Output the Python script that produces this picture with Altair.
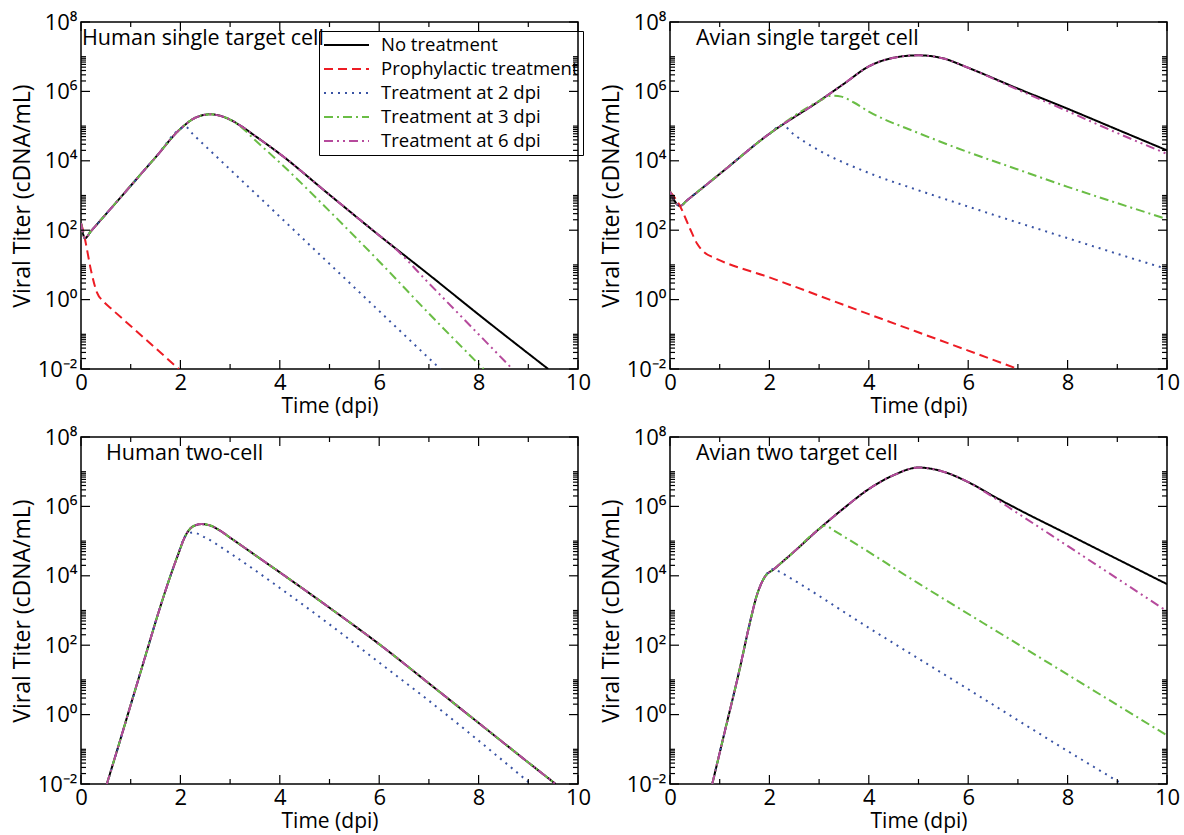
import altair as alt
import pandas as pd

FONT = "Open Sans"
W, H = 497, 347

SERIES = ["No treatment", "Prophylactic treatment", "Treatment at 2 dpi",
          "Treatment at 3 dpi", "Treatment at 6 dpi"]
COLORS = ["#000000", "#ed1c24", "#3953a4", "#6abd45", "#b64a9c"]
DASHES = [[1, 0], [9, 5], [2, 5], [9, 4, 2, 4], [9, 4, 2, 4, 2, 4]]

# Each curve: time (dpi) and log10 of the viral titer (cDNA/mL)

# Human single target cell
hs_none_t = [0, 0.08, 0.2, 0.5, 1.0, 1.5, 2.0, 2.3, 2.6, 2.9, 3.2, 3.5, 4.0, 5.0, 6.0, 7.0, 8.0, 9.4]
hs_none_v = [2.2, 1.77, 1.97, 2.46, 3.28, 4.1, 4.92, 5.24, 5.34, 5.25, 5.02, 4.72, 4.2, 3.02, 1.85, 0.72, -0.43, -2.0]
hs_pro_t = [0, 0.05, 0.1, 0.2, 0.32, 0.45, 0.6, 1.0, 1.5, 1.97]
hs_pro_v = [2.2, 1.95, 1.6, 0.85, 0.21, -0.05, -0.25, -0.76, -1.4, -2.0]
hs_d2_t = [0, 0.08, 0.2, 0.5, 1.0, 1.5, 2.0, 2.1, 2.25, 3.0, 4.0, 5.0, 6.0, 7.0, 7.23]
hs_d2_v = [2.2, 1.77, 1.97, 2.46, 3.28, 4.1, 4.92, 4.98, 4.77, 3.75, 2.39, 1.03, -0.33, -1.69, -2.0]
hs_d3_t = [0, 0.08, 0.2, 0.5, 1.0, 1.5, 2.0, 2.3, 2.6, 2.9, 3.2, 3.5, 4.0, 5.0, 6.0, 7.0, 8.1]
hs_d3_v = [2.2, 1.77, 1.97, 2.46, 3.28, 4.1, 4.92, 5.24, 5.34, 5.25, 5.0, 4.6, 3.95, 2.55, 1.1, -0.4, -2.0]
hs_d6_t = [0, 0.08, 0.2, 0.5, 1.0, 1.5, 2.0, 2.3, 2.6, 2.9, 3.2, 3.5, 4.0, 5.0, 6.0, 6.3, 7.0, 8.0, 8.68]
hs_d6_v = [2.2, 1.77, 1.97, 2.46, 3.28, 4.1, 4.92, 5.24, 5.34, 5.25, 5.02, 4.72, 4.2, 3.02, 1.85, 1.5, 0.47, -1.0, -2.0]

# Avian single target cell
as_none_t = [0, 0.2, 0.35, 1.0, 2.0, 3.0, 3.5, 4.0, 4.5, 5.0, 5.5, 6.0, 7.0, 8.0, 9.0, 10.0]
as_none_v = [3.11, 2.7, 2.87, 3.62, 4.78, 5.72, 6.22, 6.72, 6.97, 7.04, 6.95, 6.68, 6.08, 5.5, 4.9, 4.3]
as_pro_t = [0, 0.2, 0.4, 0.55, 0.7, 0.9, 2.0, 4.0, 6.0, 7.0]
as_pro_v = [3.11, 2.7, 2.05, 1.6, 1.35, 1.2, 0.64, -0.42, -1.47, -2.0]
as_d2_t = [0, 0.2, 0.35, 1.0, 2.0, 2.25, 2.5, 3.0, 4.0, 5.0, 6.0, 7.0, 8.0, 9.0, 10.0]
as_d2_v = [3.11, 2.7, 2.87, 3.62, 4.78, 5.03, 4.75, 4.3, 3.65, 3.15, 2.68, 2.22, 1.77, 1.32, 0.88]
as_d3_t = [0, 0.2, 0.35, 1.0, 2.0, 3.0, 3.25, 3.45, 3.7, 4.0, 5.0, 6.0, 7.0, 8.0, 9.0, 10.0]
as_d3_v = [3.11, 2.7, 2.87, 3.62, 4.78, 5.72, 5.88, 5.85, 5.68, 5.42, 4.8, 4.25, 3.75, 3.25, 2.78, 2.32]
as_d6_t = [0, 0.2, 0.35, 1.0, 2.0, 3.0, 3.5, 4.0, 4.5, 5.0, 5.5, 6.0, 7.0, 8.0, 9.0, 10.0]
as_d6_v = [3.11, 2.7, 2.87, 3.62, 4.78, 5.72, 6.22, 6.72, 6.97, 7.04, 6.95, 6.68, 6.05, 5.43, 4.8, 4.2]

# Human two-cell
ht_none_t = [0.52, 0.8, 1.0, 1.3, 1.55, 1.8, 1.95, 2.1, 2.25, 2.42, 2.6, 2.8, 3.0, 3.5, 4.0, 5.0, 6.0, 7.0, 8.0, 9.0, 9.55]
ht_none_v = [-2.0, -0.68, 0.28, 1.71, 2.9, 4.0, 4.6, 5.15, 5.42, 5.49, 5.45, 5.3, 5.1, 4.6, 4.1, 3.08, 2.03, 0.9, -0.24, -1.38, -2.0]
ht_d2_t = [0.52, 0.8, 1.0, 1.3, 1.55, 1.8, 1.95, 2.1, 2.25, 2.5, 3.0, 4.0, 5.0, 6.0, 7.0, 8.0, 9.05]
ht_d2_v = [-2.0, -0.68, 0.28, 1.71, 2.9, 4.0, 4.6, 5.15, 5.25, 5.1, 4.65, 3.65, 2.6, 1.5, 0.4, -0.75, -2.0]

# Avian two target cell
at_none_t = [0.85, 1.1, 1.4, 1.6, 1.75, 1.9, 2.1, 2.5, 3.0, 3.5, 4.0, 4.5, 5.0, 5.5, 6.0, 6.5, 7.0, 8.0, 9.0, 10.0]
at_none_v = [-2.0, -0.5, 1.3, 2.6, 3.45, 3.95, 4.2, 4.7, 5.35, 5.95, 6.5, 6.9, 7.12, 7.0, 6.7, 6.3, 5.92, 5.2, 4.48, 3.76]
at_d2_t = [0.85, 1.1, 1.4, 1.6, 1.75, 1.9, 2.1, 2.2, 4.0, 6.0, 8.0, 9.1]
at_d2_v = [-2.0, -0.5, 1.3, 2.6, 3.45, 3.95, 4.2, 4.12, 2.5, 0.73, -1.05, -2.0]
at_d3_t = [0.85, 1.1, 1.4, 1.6, 1.75, 1.9, 2.1, 2.5, 3.0, 3.12, 3.3, 5.0, 7.0, 10.0]
at_d3_v = [-2.0, -0.5, 1.3, 2.6, 3.45, 3.95, 4.2, 4.7, 5.35, 5.45, 5.3, 3.78, 2.03, -0.6]
at_d6_t = [0.85, 1.1, 1.4, 1.6, 1.75, 1.9, 2.1, 2.5, 3.0, 3.5, 4.0, 4.5, 5.0, 5.5, 6.0, 6.3, 7.0, 8.0, 9.0, 10.0]
at_d6_v = [-2.0, -0.5, 1.3, 2.6, 3.45, 3.95, 4.2, 4.7, 5.35, 5.95, 6.5, 6.9, 7.12, 7.0, 6.7, 6.45, 5.8, 4.86, 3.92, 2.98]

PANELS = [
    ("Human single target cell", 1,
     [(hs_none_t, hs_none_v), (hs_pro_t, hs_pro_v), (hs_d2_t, hs_d2_v), (hs_d3_t, hs_d3_v), (hs_d6_t, hs_d6_v)]),
    ("Avian single target cell", 26,
     [(as_none_t, as_none_v), (as_pro_t, as_pro_v), (as_d2_t, as_d2_v), (as_d3_t, as_d3_v), (as_d6_t, as_d6_v)]),
    ("Human two-cell", 25,
     [(ht_none_t, ht_none_v), None, (ht_d2_t, ht_d2_v), (ht_none_t, ht_none_v), (ht_none_t, ht_none_v)]),
    ("Avian two target cell", 26,
     [(at_none_t, at_none_v), None, (at_d2_t, at_d2_v), (at_d3_t, at_d3_v), (at_d6_t, at_d6_v)]),
]

Y_MAJOR = [1e-2, 1e0, 1e2, 1e4, 1e6, 1e8]
Y_MINOR_BASES = [1e-2, 1e0, 1e2, 1e4, 1e6]
Y_MINOR_STEPS = [2, 3, 4, 5, 6, 7, 8, 9, 10]
X_MAJOR = [0, 2, 4, 6, 8, 10]
X_MINOR = [1, 3, 5, 7, 9]

XS = alt.Scale(domain=[0, 10], nice=False, zero=False)
YS = alt.Scale(type="log", domain=[1e-2, 1e8], nice=False)
XT = "Time (dpi)"
YT = "Viral Titer (cDNA/mL)"

Y_LABELS = ("datum.value >= 1e7 ? '10⁸' : datum.value >= 1e5 ? '10⁶' : "
            "datum.value >= 1e3 ? '10⁴' : datum.value >= 10 ? '10²' : "
            "datum.value >= 0.1 ? '10⁰' : '10⁻²'")

X_AXIS = alt.Axis(values=X_MAJOR, labelFontSize=22, labelPadding=3, labelFlush=False,
                  titleFontSize=21, titlePadding=2, labelOverlap=False, title=XT)
Y_AXIS = alt.Axis(values=Y_MAJOR, labelExpr=Y_LABELS, labelFontSize=22, labelPadding=4,
                  titleFontSize=23, titlePadding=3, labelOverlap=False, title=YT)

LEGEND = alt.Legend(orient="none", legendX=238, legendY=9, title=None)


def xenc(field):
    return alt.X(field, scale=XS, axis=X_AXIS)


def yenc(field):
    return alt.Y(field, scale=YS, axis=Y_AXIS)


def curve_frame(curves):
    rows = []
    for name, curve in zip(SERIES, curves):
        if curve is None:
            continue
        for t, v in zip(*curve):
            rows.append({"t": t, "titer": 10 ** v, "series": name})
    return pd.DataFrame(rows)


def tick_rules(values, channel, length):
    df = pd.DataFrame({"v": values})
    base = alt.Chart(df).mark_rule(color="black", strokeWidth=1.2)
    if channel == "y":
        near = base.encode(y=yenc("v:Q"), x=alt.value(0), x2=alt.value(length))
        far = base.encode(y=yenc("v:Q"), x=alt.value(W), x2=alt.value(W - length))
    else:
        near = base.encode(x=xenc("v:Q"), y=alt.value(H), y2=alt.value(H - length))
        far = base.encode(x=xenc("v:Q"), y=alt.value(0), y2=alt.value(length))
    return [near, far]


def panel(title, title_dx, curves):
    lines = alt.Chart(curve_frame(curves)).mark_line(
        strokeWidth=2, interpolate="monotone", clip=True
    ).encode(
        x=xenc("t:Q"),
        y=yenc("titer:Q"),
        color=alt.Color("series:N", scale=alt.Scale(domain=SERIES, range=COLORS), legend=LEGEND),
        strokeDash=alt.StrokeDash("series:N", scale=alt.Scale(domain=SERIES, range=DASHES), legend=LEGEND),
    )
    y_minor = [b * s for b in Y_MINOR_BASES for s in Y_MINOR_STEPS]
    ticks = (tick_rules(Y_MAJOR, "y", 9) + tick_rules(y_minor, "y", 5)
             + tick_rules(X_MAJOR, "x", 9) + tick_rules(X_MINOR, "x", 5))
    label = alt.Chart(pd.DataFrame({"name": [title]})).mark_text(
        align="left", baseline="middle", font=FONT, fontSize=21.5, color="black"
    ).encode(text="name:N", x=alt.value(title_dx), y=alt.value(17))
    return alt.layer(lines, *ticks, label).properties(width=W, height=H)


charts = [panel(*p) for p in PANELS]
chart = alt.concat(
    *charts, columns=2, spacing={"row": 68, "column": 92}, bounds="flush"
).properties(
    padding={"left": 10, "top": 10, "right": 2, "bottom": 2}
).configure_view(
    stroke="black", strokeWidth=1.5
).configure_axis(
    grid=False, domain=False, ticks=False, labelFont=FONT, titleFont=FONT,
    labelColor="black", titleColor="black", titleFontWeight="normal"
).configure_legend(
    labelFont=FONT, labelFontSize=18.5, labelColor="black",
    symbolType="M-1,0H4", symbolSize=324, symbolStrokeWidth=2,
    strokeColor="black", padding=4, labelOffset=38, rowPadding=4, labelLimit=400
)

chart.save("out.html", embed_options={"renderer": "svg", "actions": False})
